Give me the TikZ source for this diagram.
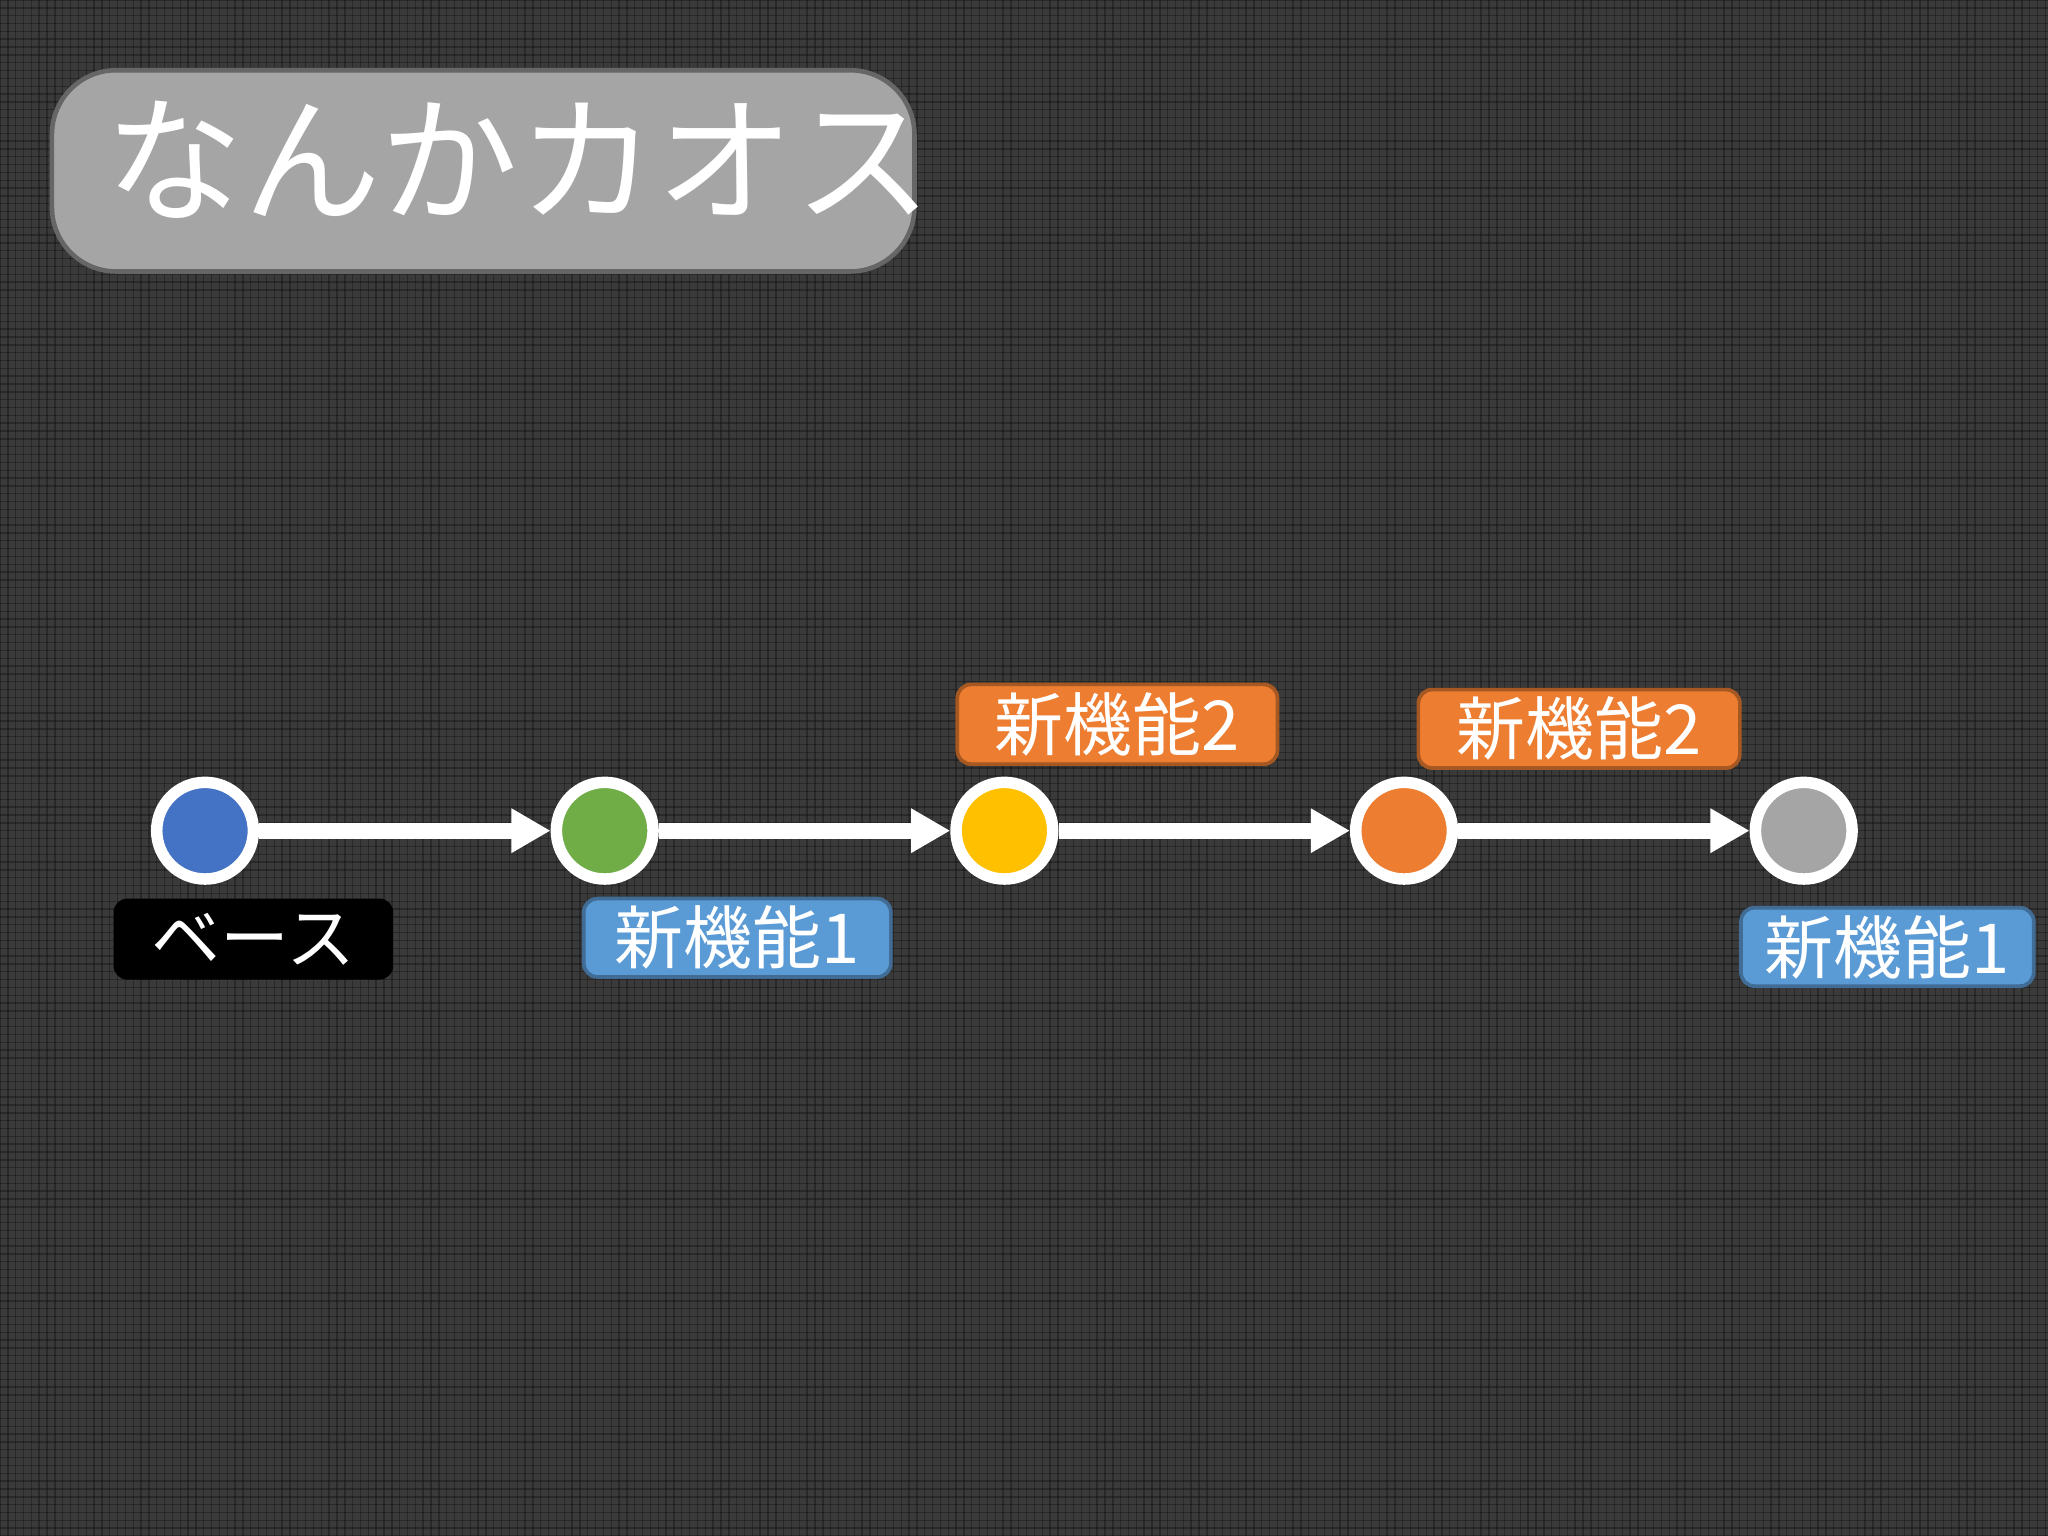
\documentclass[tikz,border=0pt]{standalone}
\usepackage{fontspec}
\newfontfamily\cjk{Noto Sans CJK JP}
\usetikzlibrary{arrows.meta}
\definecolor{bg}{HTML}{3A3A3A}
\definecolor{cblue}{HTML}{4472C4}
\definecolor{cgreen}{HTML}{70AD47}
\definecolor{cyellow}{HTML}{FFC000}
\definecolor{corange}{HTML}{ED7D31}
\definecolor{cgray}{HTML}{A5A5A5}
\definecolor{lblue}{HTML}{5B9BD5}
\tikzset{
  commit/.style={circle,draw=white,line width=2.5pt,minimum size=0.74cm,inner sep=0pt},
  tag/.style={rounded corners=3pt,minimum height=0.6cm,inner sep=0pt,font=\cjk\fontsize{15}{16}\selectfont,text=white,line width=0.8pt},
  flow/.style={white,line width=3.5pt,-{Triangle[length=0.3cm,width=0.32cm]}}
}
\begin{document}
\begin{tikzpicture}[x=0.01cm,y=-0.01cm]
\useasboundingbox (0,0) rectangle (1568,1176);
\fill[bg] (0,0) rectangle (1568,1176);
\foreach \i in {0,6,...,1568} \draw[black!80!bg,line width=0.3pt,opacity=0.35] (\i,0) -- (\i,1176);
\foreach \i in {0,6,...,1176} \draw[black!80!bg,line width=0.3pt,opacity=0.35] (0,\i) -- (1568,\i);
\node[draw=gray!80!black,fill=cgray,rounded corners=14pt,line width=1pt,minimum width=6.6cm,minimum height=1.54cm,anchor=north west,inner sep=0pt] (title) at (38,52) {};
\node[anchor=west,text=white,font=\cjk\fontsize{30}{32}\selectfont,inner sep=0pt] (tt) at (80,122) {なんかカオス};
\node[commit,fill=cblue] (c1) at (157,636) {};
\node[commit,fill=cgreen] (c2) at (463,636) {};
\node[commit,fill=cyellow] (c3) at (769,636) {};
\node[commit,fill=corange] (c4) at (1075,636) {};
\node[commit,fill=cgray] (c5) at (1381,636) {};
\draw[flow] (c1) -- (c2);
\draw[flow] (c2) -- (c3);
\draw[flow] (c3) -- (c4);
\draw[flow] (c4) -- (c5);
\node[tag,fill=black,minimum width=2.14cm,minimum height=0.62cm] (l1) at (194,719) {ベース};
\node[tag,fill=lblue,draw=lblue!70!black,minimum width=2.35cm] (l2) at (564.5,718) {新機能1};
\node[tag,fill=corange,draw=corange!70!black,minimum width=2.45cm,minimum height=0.61cm] (l3) at (855.5,554.5) {新機能2};
\node[tag,fill=corange,draw=corange!70!black,minimum width=2.46cm] (l4) at (1209,558) {新機能2};
\node[tag,fill=lblue,draw=lblue!70!black,minimum width=2.24cm] (l5) at (1445,725) {新機能1};
\end{tikzpicture}
\end{document}
